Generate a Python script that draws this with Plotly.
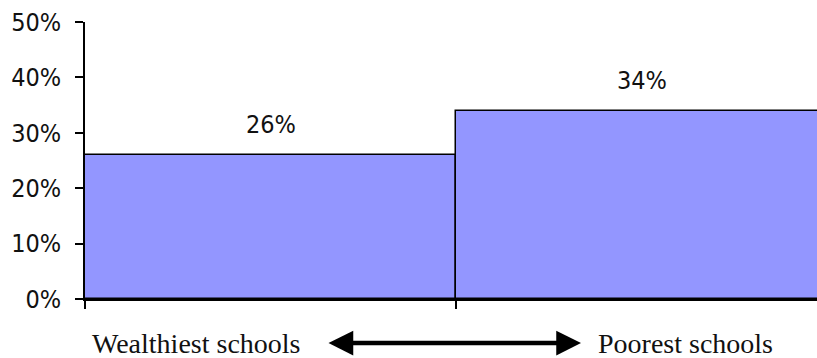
import plotly.graph_objects as go

categories = ["Wealthiest schools", "Poorest schools"]
values = [26, 34]
bar_labels = ["26%", "34%"]
y_ticks = [0, 10, 20, 30, 40, 50]
y_tick_labels = ["0%", "10%", "20%", "30%", "40%", "50%"]

fig = go.Figure()
fig.add_trace(go.Bar(
    x=list(range(len(values))), y=values, width=1,
    marker=dict(color="#9396FF", line=dict(color="black", width=1.5)),
    hoverinfo="skip",
))

sans = "DejaVu Sans Condensed, DejaVu Sans"
serif = "Liberation Serif"

for i, (v, lab) in enumerate(zip(values, bar_labels)):
    fig.add_annotation(x=i, y=v, text=lab, showarrow=False, yanchor="bottom",
                       yshift=14, font=dict(family=sans, size=25, color="#111"))

fig.add_annotation(xref="x domain", yref="y domain", x=0.0068, y=-0.159, text=categories[0],
                   showarrow=False, xanchor="left", yanchor="middle",
                   font=dict(family=serif, size=28, color="#111"))
fig.add_annotation(xref="x domain", yref="y domain", x=0.9426, y=-0.159, text=categories[1],
                   showarrow=False, xanchor="right", yanchor="middle",
                   font=dict(family=serif, size=28, color="#111"))
# double-headed arrow
fig.add_annotation(xref="x domain", yref="y domain", axref="x domain", ayref="y domain",
                   x=0.6776, y=-0.159, ax=0.3306, ay=-0.159, text="",
                   showarrow=True, arrowhead=2, arrowside="end+start",
                   arrowsize=1.1, arrowwidth=4.5, arrowcolor="black",
                   startarrowhead=2, startarrowsize=1.1)

fig.update_layout(
    width=817, height=358,
    margin=dict(l=85, r=0, t=22, b=59),
    plot_bgcolor="white", paper_bgcolor="white",
    showlegend=False,
    bargap=0,
    xaxis=dict(range=[-0.5, 1.473], showgrid=False, zeroline=False,
               showline=True, linecolor="black", linewidth=1.5,
               tickmode="array", tickvals=[-0.5, 0.5], ticks="outside",
               ticklen=8, tickwidth=1.5, tickcolor="black", showticklabels=False),
    yaxis=dict(range=[0, 50], showgrid=False, zeroline=False,
               showline=True, linecolor="black", linewidth=1.5,
               tickmode="array", tickvals=y_ticks, ticktext=y_tick_labels,
               ticks="outside", ticklen=8, tickwidth=1.5, tickcolor="black",
               ticklabelstandoff=9,
               tickfont=dict(family=sans, size=25, color="#111")),
)

fig.write_html("out.html")
